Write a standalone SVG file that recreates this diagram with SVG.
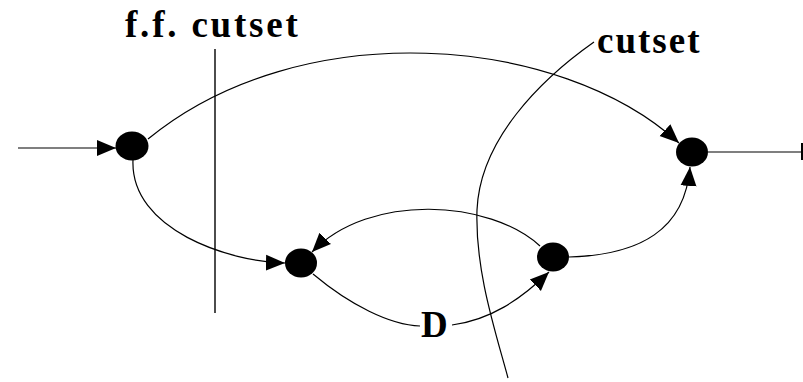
<svg xmlns="http://www.w3.org/2000/svg" width="803" height="382" viewBox="0 0 803 382">
<style>
.e{stroke:#000;stroke-width:1.2;fill:none}
.n{fill:#000}
.t{font-family:"Liberation Serif","Times New Roman",serif;font-weight:bold;font-size:37px;fill:#000}
</style>
<defs>
<marker id="ah" markerUnits="userSpaceOnUse" markerWidth="20" markerHeight="18" refX="19" refY="8" orient="auto" viewBox="0 0 20 16">
<path d="M0,0 L19,8 L0,16 z" fill="#000"/>
</marker>
</defs>
<rect width="803" height="382" fill="#fff"/>
<g id="connectors">
<path class="e" d="M18,148 L116,148" marker-end="url(#ah)"/>
<path class="e" d="M708,152 L802,152"/>
<path d="M802,143 L802,160" stroke="#000" stroke-width="2"/>
<path class="e" d="M148,139 C300,14 560,34 679,143" marker-end="url(#ah)"/>
<path class="e" d="M133,160 C130,230 230,262 285,263" marker-end="url(#ah)"/>
<path class="e" d="M540,246 C490,200 370,192 312,252" marker-end="url(#ah)"/>
<path class="e" d="M313,274 C350,305 390,325 420,326"/>
<path class="e" d="M452,325 C490,320 520,300 549,272" marker-end="url(#ah)"/>
<path class="e" d="M569,257 C640,255 685,230 690,167" marker-end="url(#ah)"/>
</g>
<g id="ffcut">
<path d="M215,49 L215,313" stroke="#000" stroke-width="1.4"/>
<text class="t" x="125" y="37" letter-spacing="2.8">f.f. cutset</text>
</g>
<g id="cut">
<path class="e" d="M594,42 C540,80 480,140 477,210 C475,270 495,330 508,378"/>
<text class="t" x="597" y="53" letter-spacing="2">cutset</text>
</g>
<g id="n1"><ellipse class="n" cx="132" cy="146" rx="16.5" ry="14.5"/></g>
<g id="n2"><ellipse class="n" cx="692" cy="152" rx="16" ry="14.5"/></g>
<g id="n3"><ellipse class="n" cx="301" cy="263" rx="16" ry="14.5"/></g>
<g id="n4"><ellipse class="n" cx="553" cy="257" rx="16" ry="14.5"/></g>
<g id="d"><text class="t" x="421" y="337">D</text></g>
</svg>
